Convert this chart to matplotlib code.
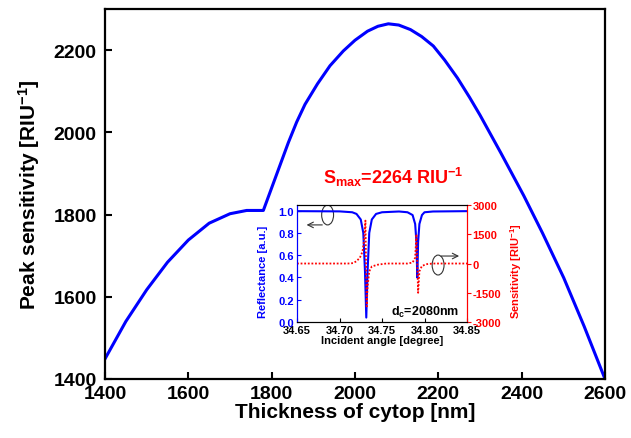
import matplotlib
matplotlib.use("Agg")
import matplotlib.pyplot as plt
from matplotlib.patches import Ellipse

plt.rcParams['font.family'] = ['Liberation Sans', 'DejaVu Sans']
plt.rcParams['font.weight'] = 'bold'
plt.rcParams['axes.unicode_minus'] = False
plt.rcParams['mathtext.fontset'] = 'custom'
plt.rcParams['mathtext.rm'] = 'Liberation Sans:bold'
plt.rcParams['mathtext.bf'] = 'Liberation Sans:bold'
plt.rcParams['mathtext.it'] = 'Liberation Sans:bold'

# main curve: peak sensitivity vs cytop thickness
thickness = [1400, 1450, 1500, 1550, 1600, 1650, 1700, 1740, 1780,
             1800, 1820, 1840, 1860, 1880, 1910, 1940, 1972, 2000, 2030, 2055, 2080,
             2105, 2133, 2160, 2188, 2215, 2246, 2275, 2300, 2350, 2405, 2450,
             2501, 2550, 2600]
peak_sens = [1449, 1540, 1617, 1684, 1738, 1779, 1802, 1810, 1810,
             1865, 1920, 1975, 2025, 2068, 2118, 2162, 2198, 2224, 2246, 2258, 2264,
             2261, 2250, 2233, 2210, 2176, 2132, 2085, 2042, 1950, 1846, 1755,
             1646, 1528, 1400]

# inset: reflectance and sensitivity vs incident angle (d_c = 2080 nm)
angle_r = [34.65, 34.70, 34.715, 34.72, 34.725, 34.728, 34.730, 34.7315, 34.733,
           34.735, 34.738, 34.743, 34.75, 34.77, 34.78, 34.786, 34.789, 34.7905,
           34.7915, 34.7925, 34.794, 34.797, 34.80, 34.81, 34.85]
refl = [0.995, 0.993, 0.985, 0.97, 0.92, 0.80, 0.45, 0.04, 0.45,
        0.80, 0.92, 0.97, 0.985, 0.992, 0.985, 0.96, 0.88, 0.72,
        0.40, 0.72, 0.88, 0.96, 0.985, 0.992, 0.995]

angle_s = [34.65, 34.71, 34.716, 34.72, 34.724, 34.727, 34.729, 34.7305, 34.7312,
           34.732, 34.733, 34.735, 34.738, 34.745, 34.755, 34.78, 34.786, 34.789,
           34.7905, 34.7915, 34.7925, 34.794, 34.797, 34.803, 34.81, 34.85]
sens = [0, 0, 20, 120, 300, 600, 1200, 2200, 0,
        -2200, -1200, -400, -150, -60, 0, 0, 50, 300,
        1500, 0, -1500, -400, -120, -30, 0, 0]

fig = plt.figure(figsize=(6.31, 4.39), dpi=100)
ax = fig.add_axes([0.1664, 0.1344, 0.7924, 0.8428])
ax.plot(thickness, peak_sens, color='#0000ff', lw=2.2)
ax.set_xlim(1400, 2600)
ax.set_ylim(1400, 2300)
ax.set_xticks([1400, 1600, 1800, 2000, 2200, 2400, 2600])
ax.set_yticks([1400, 1600, 1800, 2000, 2200])
ax.tick_params(direction='in', length=5, width=1.5, labelsize=14)
ax.tick_params(axis='x', pad=4)
ax.tick_params(axis='y', pad=6)
for s in ax.spines.values():
    s.set_linewidth(1.6)
ax.set_xlabel('Thickness of cytop [nm]', fontsize=15, fontweight='bold', labelpad=0)
ax.set_ylabel('Peak sensitivity [RIU$^{-1}$]', fontsize=15, fontweight='bold', labelpad=8)

ax.text(0.435, 0.53, 'S$_{max}$=2264 RIU$^{-1}$', transform=ax.transAxes,
        color='#ff0000', fontsize=13, fontweight='bold')

# inset
ins = fig.add_axes([0.4707, 0.2642, 0.2694, 0.2665])
ins.plot(angle_r, refl, color='#0000ff', lw=1.5)
ins.set_xlim(34.65, 34.85)
ins.set_ylim(0, 1.05)
ins.set_xticks([34.65, 34.70, 34.75, 34.80, 34.85])
ins.set_xticklabels(['34.65', '34.70', '34.75', '34.80', '34.85'])
ins.set_yticks([0.0, 0.2, 0.4, 0.6, 0.8, 1.0])
ins.tick_params(axis='x', direction='in', length=3, labelsize=8, pad=2)
ins.tick_params(axis='y', direction='in', length=3, labelsize=8, pad=2,
                colors='#0000ff')
ins.spines['left'].set_color('#0000ff')
ins.spines['right'].set_color('#ff0000')
ins.set_xlabel('Incident angle [degree]', fontsize=8, fontweight='bold', labelpad=0)
ins.set_ylabel('Reflectance [a.u.]', fontsize=8, fontweight='bold',
               color='#0000ff', labelpad=1)
ins.yaxis.set_label_coords(-0.17, 0.44)

ins2 = ins.twinx()
ins2.plot(angle_s, sens, color='#ff0000', lw=1.3, ls=(0, (1, 1)))
ins2.set_ylim(-3000, 3000)
ins2.set_yticks([-3000, -1500, 0, 1500, 3000])
ins2.tick_params(axis='y', direction='out', length=3, labelsize=8, pad=1,
                 colors='#ff0000')
ins2.spines['right'].set_color('#ff0000')
ins2.spines['left'].set_color('#0000ff')
ins2.set_ylabel('Sensitivity [RIU$^{-1}$]', fontsize=8, fontweight='bold',
                color='#ff0000', labelpad=2)
ins2.yaxis.set_label_coords(1.24, 0.44)

ins.text(0.55, 0.06, 'd$_{c}$=2080nm', transform=ins.transAxes,
         fontsize=9, fontweight='bold')

ins.add_patch(Ellipse((0.18, 0.915), 0.07, 0.17, transform=ins.transAxes,
                      fill=False, ec='#333333', lw=0.8))
ins.annotate('', xy=(0.04, 0.83), xytext=(0.165, 0.83), xycoords='axes fraction',
             arrowprops=dict(arrowstyle='->', color='#333333', lw=0.8))
ins.add_patch(Ellipse((0.83, 0.487), 0.07, 0.17, transform=ins.transAxes,
                      fill=False, ec='#333333', lw=0.8))
ins.annotate('', xy=(0.97, 0.564), xytext=(0.83, 0.564), xycoords='axes fraction',
             arrowprops=dict(arrowstyle='->', color='#333333', lw=0.8))

fig.savefig('out.png', dpi=100)
